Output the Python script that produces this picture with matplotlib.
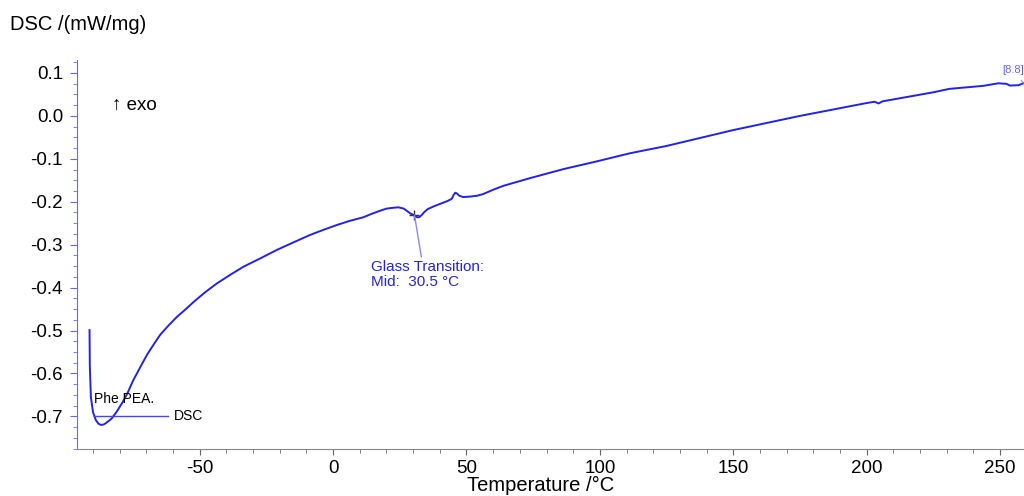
import numpy as np
import matplotlib
matplotlib.use("Agg")
import matplotlib.pyplot as plt
from matplotlib.ticker import MultipleLocator

plt.rcParams['font.family'] = ['Liberation Sans', 'DejaVu Sans']
plt.rcParams['axes.unicode_minus'] = False

# DSC-Kurve
temp = [-91.3, -91.2, -90.8, -90.0, -89.0, -88.0, -87.0, -86.0, -85.0, -83.0,
        -81.0, -79.0, -77.0, -75.0, -72.0, -69.7, -67.0, -64.7, -61.5, -58.5,
        -55.0, -52.2, -48.0, -43.5, -38.5, -33.5, -27.0, -21.0, -15.0, -8.5,
        -3.0, 1.5, 6.0, 11.4, 14.5, 17.6, 20.0, 22.6, 24.5, 26.5,
        28.9, 30.5, 31.4, 32.3, 33.2, 34.2, 35.5, 38.0, 40.1, 43.0,
        44.5, 45.2, 45.8, 46.5, 47.3, 48.8, 51.3, 54.0, 56.3, 60.0,
        63.8, 73.8, 86.3, 98.8, 111.3, 125.0, 150.0, 175.0, 200.0, 203.0,
        204.5, 206.0, 225.0, 231.0, 243.7, 249.4, 252.5, 253.7, 256.9, 258.8]
dsc = [-0.499, -0.580, -0.655, -0.690, -0.708, -0.717, -0.720, -0.719, -0.715, -0.705,
       -0.688, -0.668, -0.645, -0.617, -0.582, -0.556, -0.530, -0.509, -0.487, -0.468,
       -0.449, -0.433, -0.411, -0.390, -0.370, -0.351, -0.331, -0.312, -0.295, -0.277,
       -0.264, -0.254, -0.245, -0.236, -0.228, -0.221, -0.216, -0.214, -0.213, -0.216,
       -0.227, -0.232, -0.236, -0.236, -0.231, -0.224, -0.217, -0.210, -0.205, -0.198,
       -0.193, -0.184, -0.179, -0.181, -0.186, -0.189, -0.188, -0.186, -0.182, -0.172,
       -0.163, -0.145, -0.124, -0.106, -0.087, -0.070, -0.033, 0.000, 0.030, 0.033,
       0.029, 0.034, 0.055, 0.063, 0.070, 0.076, 0.0746, 0.0707, 0.0716, 0.076]

tg_mid = 30.5
tg_val = -0.231

blue = '#2222ee'
axis_blue = '#6666ff'

fig = plt.figure(figsize=(10.24, 4.96), dpi=100)
ax = fig.add_axes([0.0752, 0.0948, 0.9248, 0.784])

ax.plot(temp, dsc, color=blue, lw=1.4)

ax.set_xlim(-96, 259)
ax.set_ylim(-0.776, 0.13)

for s in ['top', 'right']:
    ax.spines[s].set_visible(False)
ax.spines['left'].set_color(axis_blue)
ax.spines['bottom'].set_color('#888888')

ax.xaxis.set_major_locator(MultipleLocator(50))
ax.xaxis.set_minor_locator(MultipleLocator(10))
ax.yaxis.set_minor_locator(MultipleLocator(0.025))
yt = np.round(np.arange(-0.7, 0.11, 0.1), 1)
ax.set_yticks(yt)
ax.set_yticklabels([f'{v:.1f}' if v != 0 else '0.0' for v in yt])

ax.tick_params(axis='y', which='major', length=5, color=axis_blue, labelsize=13.5, pad=5)
ax.tick_params(axis='y', which='minor', length=3, color=axis_blue)
ax.tick_params(axis='x', which='major', length=4, color='#666666', labelsize=13.5, pad=4)
ax.tick_params(axis='x', which='minor', length=3, color='#666666')

fig.text(0.01, 0.95, 'DSC /(mW/mg)', fontsize=14.5, ha='left', va='center')
fig.text(0.528, 0.002, 'Temperature /°C', fontsize=14.5, ha='center', va='bottom')

ax.text(0.037, 0.885, '↑ exo', transform=ax.transAxes, fontsize=13.5, ha='left', va='center')

# Glasübergang
ax.plot(tg_mid, tg_val, marker='+', color='#333333', ms=7, mew=1)
ax.annotate('Glass Transition:\nMid:  30.5 °C', xy=(tg_mid, tg_val), xytext=(14.2, -0.335),
            fontsize=11, color=blue, ha='left', va='top', linespacing=1.1,
            arrowprops=dict(arrowstyle='-', color='#8888ff', lw=1, shrinkA=0, shrinkB=0,
                            relpos=(0.45, 1.0)))

# Endmarke
ax.annotate('[8.8]', xy=(258.8, 0.076), xytext=(251.0, 0.106), fontsize=8, color='#6666ff',
            ha='left', va='center',
            arrowprops=dict(arrowstyle='-', color='#8888ff', lw=0.8, shrinkA=2, shrinkB=0))

# Legende
ax.plot([-89.5, -62], [-0.70, -0.70], color='#4444ff', lw=1)
ax.text(-89.5, -0.66, 'Phe PEA.', fontsize=10, ha='left', va='center')
ax.text(-59.5, -0.70, 'DSC', fontsize=10, ha='left', va='center')

fig.savefig('out.png', dpi=100)
plt.close()
